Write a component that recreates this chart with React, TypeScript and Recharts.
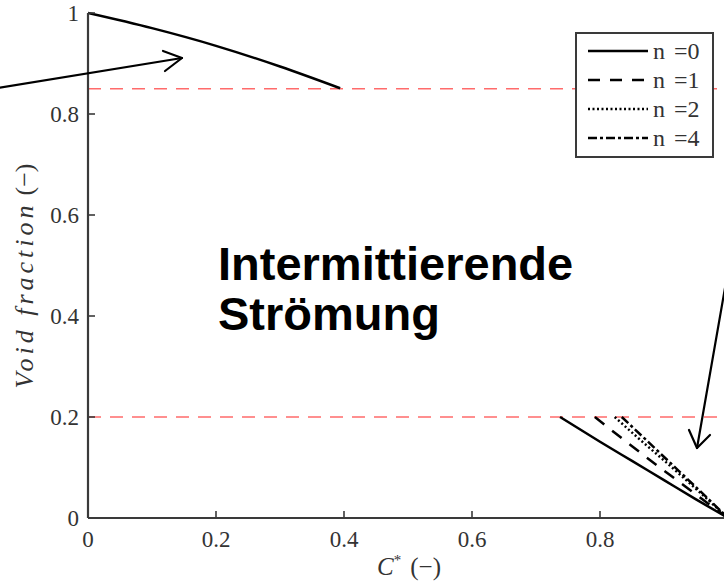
import { LineChart, Line, XAxis, YAxis, ReferenceLine } from 'recharts';

// axis ticks
const xTicks = [0, 0.2, 0.4, 0.6, 0.8, 1];
const yTicks = [0, 0.2, 0.4, 0.6, 0.8, 1];
// flow regime boundaries (red dashed)
const regimeBounds = [0.85, 0.2];

// void fraction vs C*
const n0Upper = [
  { x: 0, y: 1 },
  { x: 0.1, y: 0.97 },
  { x: 0.2, y: 0.935 },
  { x: 0.3, y: 0.894 },
  { x: 0.394, y: 0.851 },
];
const n0Lower = [
  { x: 0.7375, y: 0.2 },
  { x: 0.8, y: 0.151 },
  { x: 0.85, y: 0.113 },
  { x: 0.9, y: 0.075 },
  { x: 0.95, y: 0.037 },
  { x: 1, y: 0 },
];
const n1Lower = [
  { x: 0.792, y: 0.2 },
  { x: 0.84, y: 0.152 },
  { x: 0.88, y: 0.113 },
  { x: 0.92, y: 0.075 },
  { x: 0.96, y: 0.037 },
  { x: 1, y: 0 },
];
const n2Lower = [
  { x: 0.823, y: 0.2 },
  { x: 0.86, y: 0.158 },
  { x: 0.9, y: 0.114 },
  { x: 0.94, y: 0.069 },
  { x: 1, y: 0 },
];
const n4Lower = [
  { x: 0.834, y: 0.2 },
  { x: 0.87, y: 0.157 },
  { x: 0.91, y: 0.109 },
  { x: 0.95, y: 0.061 },
  { x: 1, y: 0 },
];

const series = [
  { key: 'n0u', name: 'n', val: '=0', data: n0Upper, dash: undefined as string | undefined, legend: false },
  { key: 'n0', name: 'n', val: '=0', data: n0Lower, dash: undefined as string | undefined, legend: true },
  { key: 'n1', name: 'n', val: '=1', data: n1Lower, dash: '12 10', legend: true },
  { key: 'n2', name: 'n', val: '=2', data: n2Lower, dash: '2 2.5', legend: true },
  { key: 'n4', name: 'n', val: '=4', data: n4Lower, dash: '9 3 3 3', legend: true },
];

const SERIF = '"Liberation Serif", "DejaVu Serif", serif';
const SANS = '"Liberation Sans", Arial, sans-serif';
const AXIS = '#3a3a3a';
const TXT = '#333';

const BottomTick = (p: any) => (
  <g>
    <line x1={p.x} y1={p.y} x2={p.x} y2={p.y - 7} stroke={AXIS} strokeWidth={1.6} />
    {p.payload.value < 1 && (
      <text x={p.x} y={p.y + 29} textAnchor="middle" fontFamily={SERIF} fontSize={23} fill={TXT}>
        {p.payload.value}
      </text>
    )}
  </g>
);
const LeftTick = (p: any) => (
  <g>
    <line x1={p.x} y1={p.y} x2={p.x + 7} y2={p.y} stroke={AXIS} strokeWidth={1.6} />
    <text x={p.x - 9} y={p.y + 8} textAnchor="end" fontFamily={SERIF} fontSize={23} fill={TXT}>
      {p.payload.value}
    </text>
  </g>
);
const TopTick = (p: any) => (
  <line x1={p.x} y1={p.y} x2={p.x} y2={p.y + 7} stroke={AXIS} strokeWidth={1.6} />
);
const RightTick = (p: any) => (
  <line x1={p.x} y1={p.y} x2={p.x - 7} y2={p.y} stroke={AXIS} strokeWidth={1.6} />
);

export default function App() {
  const legendRows = series.filter(s => s.legend);
  return (
    <div style={{ position: 'absolute', left: 0, top: 0, width: 724, height: 584, overflow: 'hidden', background: '#fff' }}>
      <LineChart width={760} height={584} margin={{ top: 13, right: 32, left: 0, bottom: 0 }}>
        <XAxis xAxisId={0} dataKey="x" type="number" domain={[0, 1]} ticks={xTicks} height={66}
          tickSize={0} tickMargin={0} tick={BottomTick} tickLine={false}
          axisLine={{ stroke: AXIS, strokeWidth: 2.2 }} allowDataOverflow />
        <XAxis xAxisId="top" orientation="top" dataKey="x" type="number" domain={[0, 1]} ticks={xTicks} height={0}
          tickSize={0} tickMargin={0} tick={TopTick} tickLine={false}
          axisLine={{ stroke: AXIS, strokeWidth: 2.2 }} />
        <YAxis yAxisId={0} type="number" domain={[0, 1]} ticks={yTicks} width={88}
          tickSize={0} tickMargin={0} tick={LeftTick} tickLine={false}
          axisLine={{ stroke: AXIS, strokeWidth: 2.2 }} />
        <YAxis yAxisId="right" orientation="right" type="number" domain={[0, 1]} ticks={yTicks} width={0}
          tickSize={0} tickMargin={0} tick={RightTick} tickLine={false}
          axisLine={{ stroke: AXIS, strokeWidth: 2.2 }} />
        {regimeBounds.map(v => (
          <ReferenceLine key={v} y={v} stroke="#ff6b6b" strokeWidth={1.5} strokeDasharray="13 9" />
        ))}
        {series.map(s => (
          <Line key={s.key} data={s.data} dataKey="y" name={s.name + ' ' + s.val} type="monotone" stroke="#000"
            strokeWidth={2.5} strokeDasharray={s.dash} dot={false} activeDot={false}
            isAnimationActive={false} legendType="none" />
        ))}
      </LineChart>

      <svg width={724} height={584} style={{ position: 'absolute', left: 0, top: 0, pointerEvents: 'none' }}>
        {/* axis titles */}
        <text transform="translate(33,276) rotate(-90)" textAnchor="middle" fontFamily={SERIF} fontSize={26} fill={TXT}>
          <tspan fontStyle="italic" letterSpacing={4}>Void fraction</tspan>
          <tspan dx={6}>(−)</tspan>
        </text>
        <text x={409} y={575} textAnchor="middle" fontFamily={SERIF} fontSize={25} fill={TXT}>
          <tspan fontStyle="italic">C</tspan>
          <tspan dy={-10} fontSize={15}>*</tspan>
          <tspan dy={10} dx={9}>(−)</tspan>
        </text>

        {/* annotation */}
        <text x={218} y={280} fontFamily={SANS} fontWeight="bold" fontSize={47} fill="#000">Intermittierende</text>
        <text x={218} y={330} fontFamily={SANS} fontWeight="bold" fontSize={47} fill="#000">Strömung</text>
        <g stroke="#000" strokeWidth={2.2} fill="none" strokeLinecap="round" strokeLinejoin="round">
          <line x1={-2} y1={88} x2={182} y2={58} />
          <polyline points="163,51 182,58 165,71" />
          <line x1={725} y1={288} x2={697} y2={448} />
          <polyline points="689,430 697,448 710,435" />
        </g>

        {/* legend */}
        <rect x={576} y={33} width={137} height={124} fill="#fff" stroke={AXIS} strokeWidth={2} />
        {legendRows.map((s, i) => {
          const cy = 51 + i * 29;
          return (
            <g key={s.key}>
              <line x1={588} y1={cy} x2={648} y2={cy} stroke="#000" strokeWidth={2.5} strokeDasharray={s.dash} />
              <text x={653} y={cy + 8} fontFamily={SERIF} fontSize={24} fill={TXT}>
                {s.name}
                <tspan dx={9}>{s.val}</tspan>
              </text>
            </g>
          );
        })}
      </svg>
    </div>
  );
}
